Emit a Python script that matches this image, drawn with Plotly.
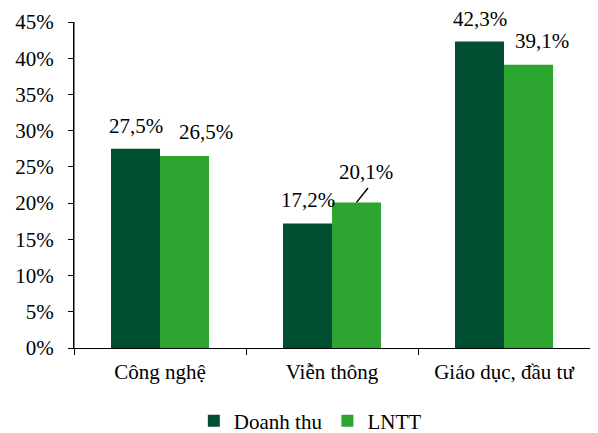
import plotly.graph_objects as go

# Dữ liệu
categories = ["Công nghệ", "Viễn thông", "Giáo dục, đầu tư"]
doanh_thu = [27.5, 17.2, 42.3]
lntt = [26.5, 20.1, 39.1]
series_names = ["Doanh thu", "LNTT"]

DARK = "#004F30"
LIGHT = "#2CA630"
FONT = dict(family="Liberation Serif", size=21, color="black")


def fmt(v):
    return f"{v:.1f}%".replace(".", ",")


fig = go.Figure()
fig.add_trace(go.Bar(x=categories, y=doanh_thu, name=series_names[0],
                     marker=dict(color=DARK, line=dict(width=0))))
fig.add_trace(go.Bar(x=categories, y=lntt, name=series_names[1],
                     marker=dict(color=LIGHT, line=dict(width=0))))

# nhãn dữ liệu (lệch ngang theo pixel so với tâm nhóm)
dt_shift = [-24.5, -24.5, -24.5]
ln_shift = [45.5, 34, 37.5]
ln_yshift = [24, 30, 24]
for c, v, s in zip(categories, doanh_thu, dt_shift):
    fig.add_annotation(x=c, y=v, text=fmt(v), showarrow=False, xshift=s,
                       yshift=23, yanchor="middle", font=FONT)
for c, v, s, ys in zip(categories, lntt, ln_shift, ln_yshift):
    fig.add_annotation(x=c, y=v, text=fmt(v), showarrow=False, xshift=s,
                       yshift=ys, yanchor="middle", font=FONT)

# đường dẫn cho nhãn 20,1%
fig.add_annotation(x=categories[1], y=lntt[1], text=" ", xshift=24.5,
                   showarrow=True, arrowhead=0, arrowwidth=1.5,
                   arrowcolor="black", ax=12, ay=-15, standoff=0,
                   font=dict(size=1), borderpad=0)

# trục tung (đường dọc bên trái vùng vẽ)
fig.add_shape(type="line", xref="x domain", yref="y domain",
              x0=0, x1=0, y0=0, y1=1, line=dict(color="black", width=1),
              layer="above")

# trang có lề body 8px nên thu nhỏ figure tương ứng
fig.update_layout(
    template="none",
    barmode="group",
    bargap=0.43,
    bargroupgap=0,
    width=590,
    height=425,
    margin=dict(l=66, r=8, t=14, b=85),
    plot_bgcolor="white",
    paper_bgcolor="white",
    font=FONT,
    showlegend=True,
    legend=dict(orientation="h", x=0.458, xanchor="center", yref="container",
                y=0.028, yanchor="middle", font=FONT, itemwidth=30),
)
fig.update_xaxes(showline=True, linecolor="black", linewidth=1, ticks="outside",
                 tickson="boundaries", ticklen=6, tickcolor="black",
                 showgrid=False, automargin=False, tickfont=FONT,
                 ticklabelstandoff=5)
fig.update_yaxes(range=[0, 45], dtick=5, ticksuffix="%", showline=True,
                 linecolor="black", linewidth=1, ticks="outside", ticklen=5,
                 tickcolor="black", showgrid=False, zeroline=False,
                 ticklabelstandoff=10, automargin=False, tickfont=FONT)

fig.write_html("out.html")
